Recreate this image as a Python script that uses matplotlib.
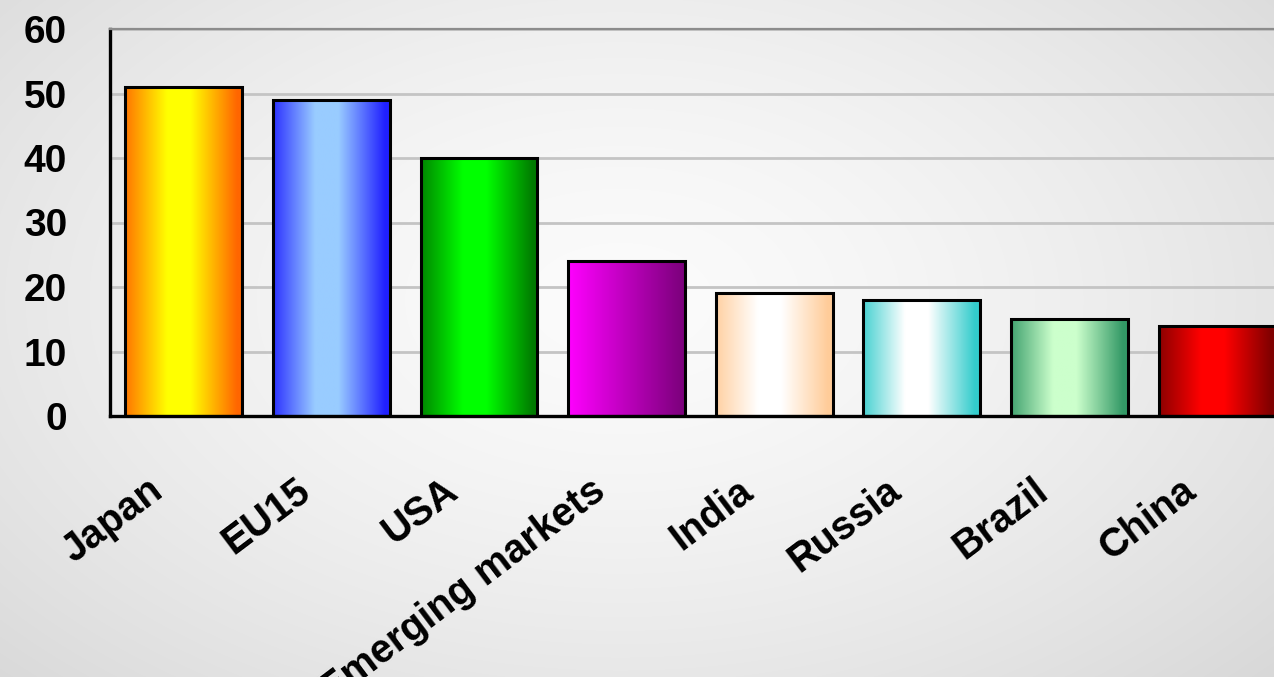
import numpy as np
import matplotlib
matplotlib.use("Agg")
import matplotlib.pyplot as plt
from matplotlib.colors import to_rgb

# ---- data ----
categories = ["Japan", "EU15", "USA", "Emerging markets", "India", "Russia", "Brazil", "China"]
values = [51, 49, 40, 24, 19, 18, 15, 14]
y_ticks = [0, 10, 20, 30, 40, 50, 60]

# ---- styles (gradient colours: edge colour, centre colour, mode) ----
edge_colors = ["#ff6600", "#2020ff", "#007a00", "#ff00ff", "#ffcc99", "#33cccc", "#339966", "#800000"]
mid_colors = ["#ffff00", "#99ccff", "#00ff00", "#7a007a", "#ffffff", "#ffffff", "#ccffcc", "#ff0000"]
modes = ["center", "center", "center", "linear", "center", "center", "center", "center"]

plt.rcParams["font.family"] = ["Liberation Sans", "DejaVu Sans"]
plt.rcParams["font.weight"] = "bold"

W, H = 1274, 677
fig = plt.figure(figsize=(W / 100, H / 100), dpi=100)

# background radial gradient
bg = fig.add_axes([0, 0, 1, 1], zorder=-10)
yy, xx = np.mgrid[0:H, 0:W]
r = np.sqrt(((xx - 620) / 900.0) ** 2 + ((yy - 300) / 560.0) ** 2)
r = np.clip(r, 0, 1)
v = 0.985 - 0.14 * r ** 1.5
bg.imshow(np.dstack([v, v, v]), extent=[0, 1, 0, 1], aspect="auto", interpolation="bilinear")
bg.set_axis_off()

left_px, right_px, top_px, bot_px = 110, 110 + 8 * 147.6, 29, 416
ax = fig.add_axes([left_px / W, (H - bot_px) / H, (right_px - left_px) / W, (bot_px - top_px) / H])
ax.patch.set_alpha(0)

x = np.arange(len(categories))
bars = ax.bar(x, values, width=0.79, facecolor="none", edgecolor="black", linewidth=2.2, zorder=4)

t = np.linspace(0, 1, 256)
for b, ec, mc, mode in zip(bars, edge_colors, mid_colors, modes):
    c0 = np.array(to_rgb(ec))
    c1 = np.array(to_rgb(mc))
    if mode == "linear":
        w = t
    else:
        w = np.clip((0.5 - np.abs(t - 0.46)) / 0.4, 0, 1)
    grad = c0[None, :] * (1 - w[:, None]) + c1[None, :] * w[:, None]
    x0 = b.get_x()
    ax.imshow(grad[None, :, :], extent=[x0, x0 + b.get_width(), 0, b.get_height()],
              aspect="auto", interpolation="bilinear", zorder=3)

ax.set_xlim(-0.5, len(categories) - 0.5)
ax.set_ylim(0, 60)
ax.set_yticks(y_ticks)
ax.set_yticklabels([str(v) for v in y_ticks], fontsize=28, fontweight="bold")
ax.yaxis.grid(True, color="#c4c4c4", linewidth=2, zorder=0)
ax.set_axisbelow(True)
ax.tick_params(axis="y", length=0, pad=31)
ax.tick_params(axis="x", length=0)
ax.set_xticks(x)
ax.set_xticklabels([])

ax.spines["right"].set_visible(False)
ax.spines["top"].set_color("#8c8c8c")
ax.spines["top"].set_linewidth(1.6)
ax.spines["left"].set_color("black")
ax.spines["left"].set_linewidth(2.4)
ax.spines["bottom"].set_color("black")
ax.spines["bottom"].set_linewidth(2.4)
ax.spines["bottom"].set_zorder(5)

for i, name in enumerate(categories):
    ax.annotate(name, xy=(i, 0), xycoords=("data", "axes fraction"),
                xytext=(-37, -55), textcoords="offset pixels",
                rotation=37, rotation_mode="anchor", ha="right", va="top",
                fontsize=28.5, fontweight="bold", color="black", annotation_clip=False)

fig.savefig("out.png", dpi=100)
